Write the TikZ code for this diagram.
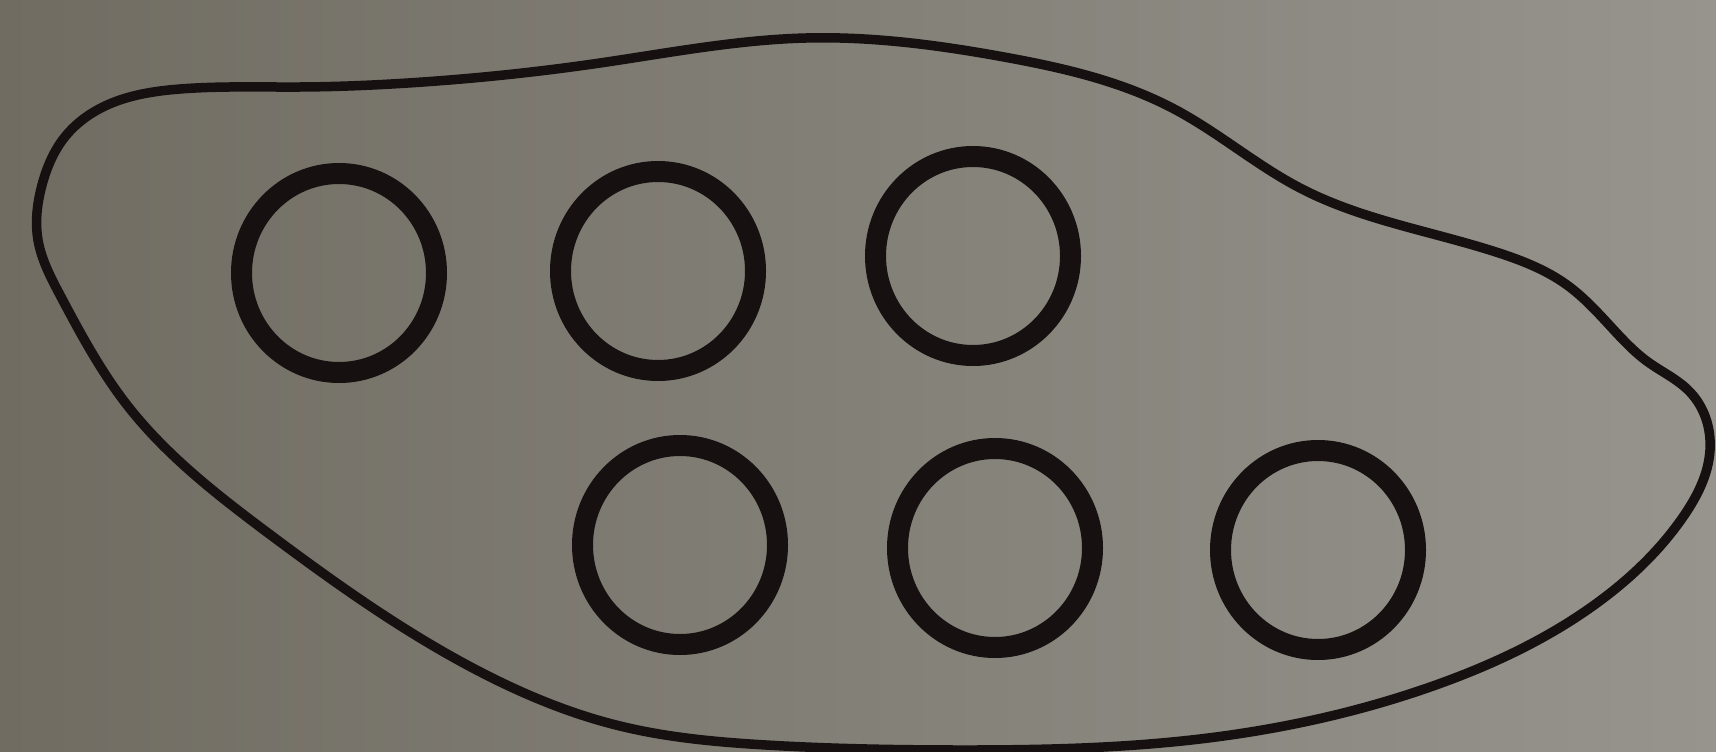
\documentclass[tikz,border=0pt]{standalone}
\usetikzlibrary{shapes.geometric,hobby}
\definecolor{bgdark}{RGB}{112,108,98}
\definecolor{bglight}{RGB}{150,148,141}
\definecolor{ink}{RGB}{22,16,16}
\tikzset{
  ring/.style={draw=ink, ellipse, line width=21pt, inner sep=0pt,
               minimum width=195pt, minimum height=199pt},
  outline/.style={draw=ink, line width=9.5pt, line join=round}
}
\begin{document}
\begin{tikzpicture}[x=1pt,y=-1pt]
\useasboundingbox (0,0) rectangle (1716,752);
\shade[left color=bgdark, right color=bglight] (0,0) rectangle (1716,752);
\path[outline] plot[closed hobby] coordinates {
 (64,138) (105,106) (180,89) (300,87) (408,83) (600,63) (806,38)
 (1004,57) (1176,110) (1300,188) (1499,253) (1567,285) (1612,328)
 (1648,362) (1690,392) (1710,450) (1683,517) (1590,608) (1433,686)
 (1200,739) (957,750) (766,745) (620,726) (469,666) (268,533)
 (127,405) (60,295) (38,240) (42,185)};
\node[ring] (c1) at (339,273) {};
\node[ring] (c2) at (658,271) {};
\node[ring] (c3) at (973,256) {};
\node[ring] (c4) at (680,545) {};
\node[ring] (c5) at (995,548) {};
\node[ring] (c6) at (1318,550) {};
\end{tikzpicture}
\end{document}
